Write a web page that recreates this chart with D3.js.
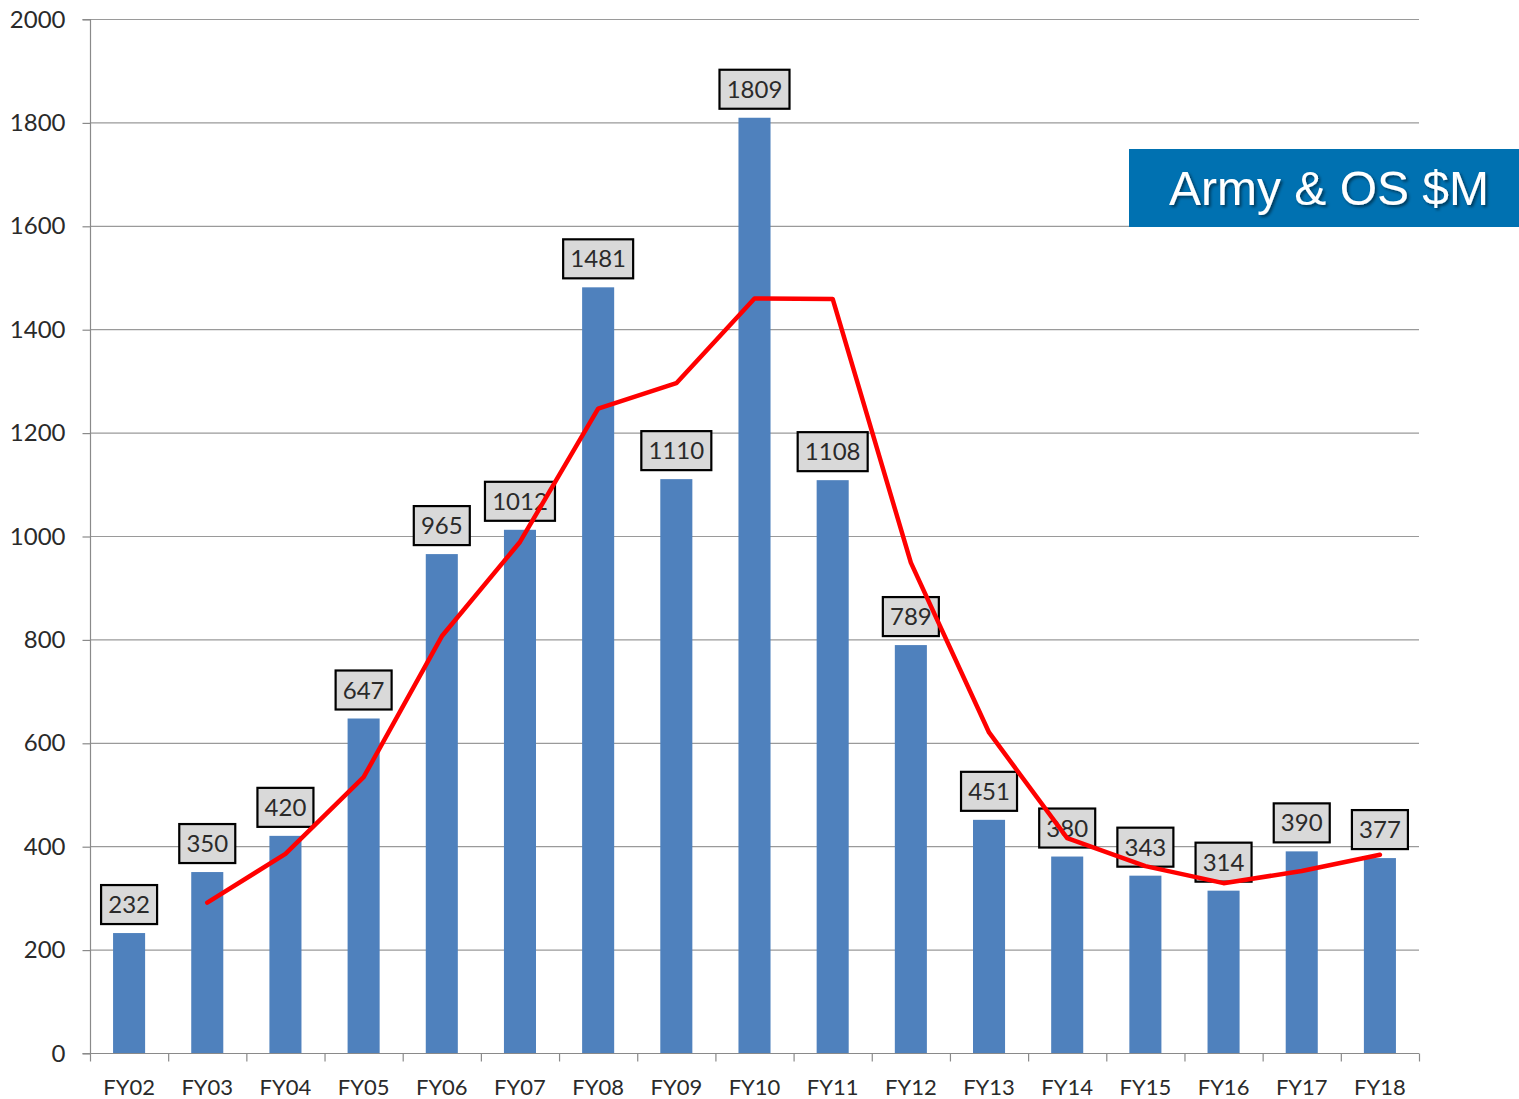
<!DOCTYPE html>
<html><head><meta charset="utf-8">
<script src="https://cdn.jsdelivr.net/npm/d3@7"></script>
<style>body{margin:0;background:#fff;} svg{display:block;}</style>
</head><body>
<svg id="chart" width="1519" height="1099"></svg>
<script>
const categories = ["FY02","FY03","FY04","FY05","FY06","FY07","FY08","FY09","FY10","FY11","FY12","FY13","FY14","FY15","FY16","FY17","FY18"];
const barValues = [232,350,420,647,965,1012,1481,1110,1809,1108,789,451,380,343,314,390,377];
const lineCategories = ["FY03","FY04","FY05","FY06","FY07","FY08","FY09","FY10","FY11","FY12","FY13","FY14","FY15","FY16","FY17","FY18"];
const lineValues = [291,385,533.5,806,988.5,1246.5,1295.5,1459.5,1458.5,948.5,620,415.5,361.5,328.5,352,383.5];
const yTicks = [0,200,400,600,800,1000,1200,1400,1600,1800,2000];
const title = "Army & OS $M";

(function(){
const svg = d3.select("#chart");
const pLeft = 90, pRight = 1419, pTop = 19, pBottom = 1053;
const font = "Lato, 'Open Sans', sans-serif";

const x = d3.scaleBand().domain(categories).range([pLeft, pRight]).paddingInner(0.59).paddingOuter(0.295);
const xb = d3.scaleBand().domain(categories).range([pLeft, pRight]);
const y = d3.scaleLinear().domain([0, 2000]).range([pBottom, pTop]);

// gridlines
svg.append("g").selectAll("line").data(yTicks.filter(d => d > 0)).join("line")
  .attr("x1", pLeft).attr("x2", pRight)
  .attr("y1", d => y(d) + 0.5).attr("y2", d => y(d) + 0.5)
  .attr("stroke", "#9a9a9a").attr("stroke-width", 1.2);

// y axis
const yAxis = d3.axisLeft(y).tickValues(yTicks).tickSize(8).tickPadding(17).tickFormat(d3.format("d"));
const gy = svg.append("g").attr("transform", `translate(${pLeft + 0.5},0.5)`).call(yAxis);
gy.select(".domain").attr("stroke", "#8a8a8a").attr("stroke-width", 1.2).attr("d", `M-8,${y(2000)}H0V${y(0)}H-8`);
gy.selectAll(".tick line").attr("stroke", "#8a8a8a").attr("stroke-width", 1.2);
gy.selectAll(".tick text").attr("font-family", font).attr("font-size", 24).attr("fill", "#2a2a2a");

// bars
svg.append("g").selectAll("rect").data(barValues).join("rect")
  .attr("x", (d, i) => x(categories[i]))
  .attr("y", d => y(d))
  .attr("width", x.bandwidth())
  .attr("height", d => y(0) - y(d))
  .attr("fill", "#4f81bd");

// x axis
const gx = svg.append("g").attr("transform", `translate(0,${pBottom + 0.5})`);
gx.append("line").attr("x1", pLeft).attr("x2", pRight).attr("stroke", "#8a8a8a").attr("stroke-width", 1.2);
const boundaries = categories.map(c => xb(c)).concat([pRight]);
gx.selectAll(".tk").data(boundaries).join("line").attr("class", "tk")
  .attr("x1", d => d + 0.5).attr("x2", d => d + 0.5).attr("y1", 0).attr("y2", 8)
  .attr("stroke", "#8a8a8a").attr("stroke-width", 1.2);
gx.selectAll("text").data(categories).join("text")
  .attr("x", d => xb(d) + xb.bandwidth() / 2)
  .attr("y", 41)
  .attr("text-anchor", "middle")
  .attr("font-family", font).attr("font-size", 22).attr("fill", "#2a2a2a")
  .text(d => d);

// labels
const lbl = svg.append("g").selectAll("g").data(barValues).join("g")
  .attr("transform", (d, i) => `translate(${x(categories[i]) + x.bandwidth() / 2},${y(d) - 29})`);
lbl.append("rect")
  .attr("x", d => String(d).length > 3 ? -35 : -28)
  .attr("width", d => String(d).length > 3 ? 70 : 56)
  .attr("y", -19).attr("height", 39)
  .attr("fill", "#d9d9d9").attr("stroke", "#000").attr("stroke-width", 2.2);
lbl.append("text")
  .attr("text-anchor", "middle").attr("dy", "0.38em")
  .attr("font-family", font).attr("font-size", 24).attr("fill", "#2a2a2a")
  .text(d => d);

// red line (drawn over the labels)
const line = d3.line().x((d, i) => x(lineCategories[i]) + x.bandwidth() / 2).y(d => y(d));
svg.append("path").datum(lineValues).attr("d", line)
  .attr("fill", "none").attr("stroke", "#ff0000").attr("stroke-width", 4.5)
  .attr("stroke-linejoin", "round").attr("stroke-linecap", "round");

// title box
const defs = svg.append("defs");
const f = defs.append("filter").attr("id", "sh").attr("x", "-10%").attr("y", "-10%").attr("width", "130%").attr("height", "140%");
f.append("feDropShadow").attr("dx", 2).attr("dy", 2).attr("stdDeviation", 1.5).attr("flood-color", "#000").attr("flood-opacity", 0.5);
svg.append("rect").attr("x", 1129).attr("y", 149).attr("width", 390).attr("height", 78).attr("fill", "#0071b1");
svg.append("text").attr("x", 1329).attr("y", 205).attr("text-anchor", "middle")
  .attr("font-family", "'Liberation Sans', Arial, sans-serif").attr("font-size", 48).attr("fill", "#fff")
  .attr("filter", "url(#sh)").text(title);
})();
</script>
</body></html>
